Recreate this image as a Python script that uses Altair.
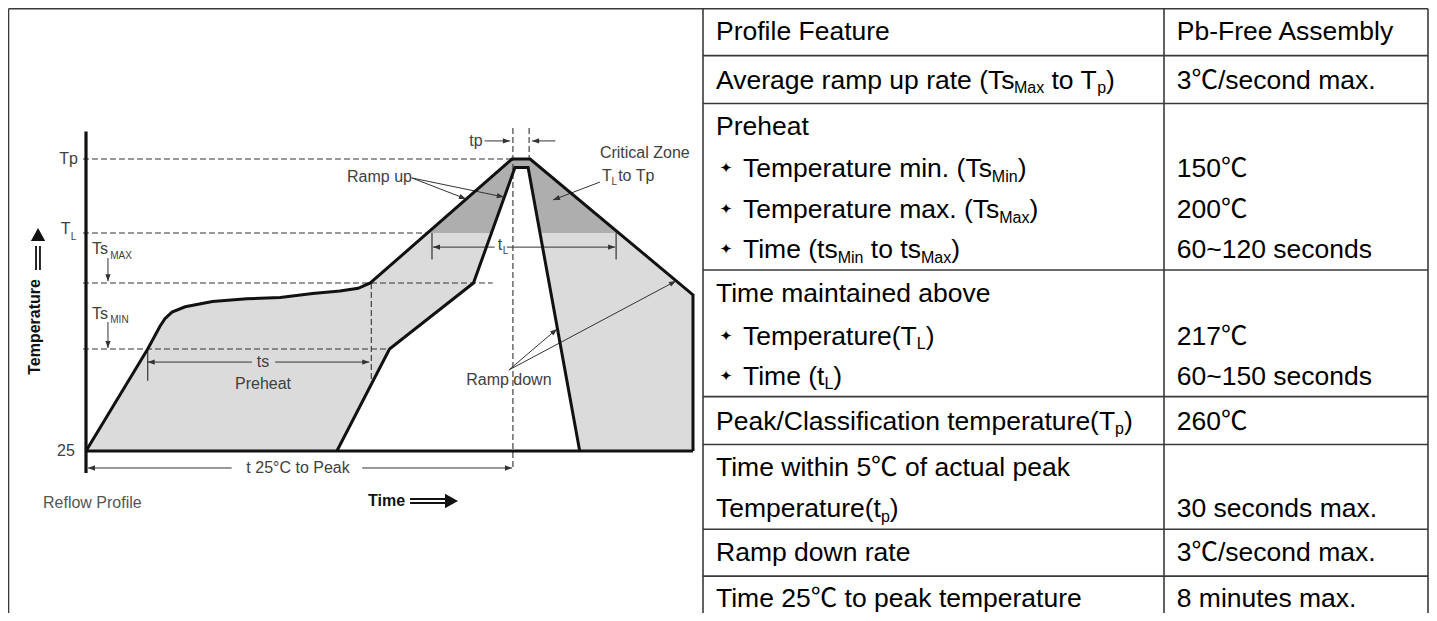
import math
import altair as alt
import pandas as pd

# ---------------- reflow profile (schematic time units, temperature in ℃) ----------------
PROFILE_MAX_TIME = [0, 61, 73, 78, 85, 98, 125, 159, 192, 224, 251, 269, 281, 421, 439, 600, 600]
PROFILE_MAX_TEMP = [25, 150, 167, 173, 178, 182, 186, 188, 189, 192, 194, 196, 200, 260, 260, 191, 25]
PROFILE_MIN_TIME = [248, 300, 383, 424, 437, 488]
PROFILE_MIN_TEMP = [25, 150, 200, 255, 255, 25]
CRITICAL_TIME = [338, 421, 439, 526, 449, 437, 424, 400]
CRITICAL_TEMP = [217, 260, 260, 217, 217, 255, 255, 217]
TEMP_LEVELS = [25, 150, 200, 217, 260]          # 25, Ts_MIN, Ts_MAX, T_L, Tp

# guide lines (start time, start temp, end time, end temp)
DASH_T1 = [-3, -3, -3, -3, 282, 422, 438]
DASH_C1 = [260, 217, 200, 150, 200, 278, 278]
DASH_T2 = [421, 338, 402, 300, 282, 422, 438]
DASH_C2 = [260, 217, 200, 150, 111, 2, 260]
TICK_T1 = [61, 342, 524]
TICK_C1 = [150, 217, 217]
TICK_T2 = [61, 342, 524]
TICK_C2 = [111, 208, 208]
AXIS_T1 = [0, 0]
AXIS_C1 = [276, 25]
AXIS_T2 = [0, 600]
AXIS_C2 = [-2, 25]
ARROW_T1 = [164, 187, 404, 416, 144, 273, 394, 464, 21.7, 21.7, 322, 322, 508, 418, 418]
ARROW_C1 = [134, 134, 212.2, 212.2, 4.2, 4.2, 270.5, 270.5, 208.5, 170.5, 249, 249, 246.6, 124.3, 124.3]
ARROW_T2 = [61, 280, 343, 523, 2, 421, 419, 441, 21.7, 21.7, 375.6, 413, 461.6, 465.6, 583.2]
ARROW_C2 = [134, 134, 212.2, 212.2, 4.2, 4.2, 270.5, 270.5, 200.6, 150.8, 236.8, 237.9, 236.2, 165.2, 200.7]
DOUBLE_T1 = [-49.4, -45.5, 320.3, 320.3]
DOUBLE_C1 = [204.4, 204.4, -33.8, -38.7]
DOUBLE_T2 = [-49.4, -45.5, 356.9, 356.9]
DOUBLE_C2 = [212.6, 212.6, -33.8, -38.7]
DOUBLE_HEAD_T = [-47.4, 367.7]
DOUBLE_HEAD_C = [219.9, -36.3]

# diagram labels
LABEL_LEFT = ["Ramp up", "Critical Zone", "T", "to Tp", "T", "Ts", "Ts", "t"]
LABEL_LEFT_T = [258, 508, 510, 526, -25, 6, 6, 407]
LABEL_LEFT_C = [249.5, 263.5, 250, 250, 219.3, 211.6, 176.5, 212.9]
LABEL_RIGHT = ["Tp", "25", "tp"]
LABEL_RIGHT_T = [-8, -11, 392]
LABEL_RIGHT_C = [260, 25, 270.5]
LABEL_CENTER = ["ts", "Preheat", "t 25°C to Peak", "Ramp down"]
LABEL_CENTER_T = [175, 175, 209.6, 418]
LABEL_CENTER_C = [134, 107, 4.2, 112]
LABEL_SUB = ["L", "MAX", "MIN", "L", "L"]
LABEL_SUB_T = [-15, 24, 24, 519.5, 412]
LABEL_SUB_C = [215.6, 209.2, 172, 246.6, 210.9]

# ---------------- table ----------------
FEATURES = [
    [("Profile Feature", 0)],
    [("Average ramp up rate (Ts", 0), ("Max", 1), (" to T", 0), ("p", 1), (")", 0)],
    [("Preheat", 0)],
    [("Temperature min. (Ts", 0), ("Min", 1), (")", 0)],
    [("Temperature max. (Ts", 0), ("Max", 1), (")", 0)],
    [("Time (ts", 0), ("Min", 1), (" to ts", 0), ("Max", 1), (")", 0)],
    [("Time maintained above", 0)],
    [("Temperature(T", 0), ("L", 1), (")", 0)],
    [("Time (t", 0), ("L", 1), (")", 0)],
    [("Peak/Classification temperature(T", 0), ("p", 1), (")", 0)],
    [("Time within 5℃ of actual peak", 0)],
    [("Temperature(t", 0), ("p", 1), (")", 0)],
    [("Ramp down rate", 0)],
    [("Time 25℃ to peak temperature", 0)],
]
BULLET_LINES = [3, 4, 5, 7, 8]
VALUES = ["Pb-Free Assembly", "3℃/second max.", "150℃", "200℃", "60~120 seconds",
          "217℃", "60~150 seconds", "260℃", "30 seconds max.", "3℃/second max.", "8 minutes max."]
VALUE_LINES = [0, 1, 3, 4, 5, 7, 8, 9, 11, 12, 13]

# ---------------- layout (positions in reference-page pixels) ----------------
W, H = 1421, 605
LEVEL_PX = [443, 341, 275, 225, 151]
TIME_DOMAIN, TIME_PX = [0, 600], [78, 685]
PAGE_X_DOMAIN, PAGE_X_RANGE = [7, 703, 1164, 1433], [0.5, 695, 1156, 1420]
PAGE_Y_DOMAIN, PAGE_Y_RANGE = [7, 613], [0.8, 605]
LINE_CENTER_Y = [29, 78, 125, 167, 208, 248, 292, 335, 375, 420, 467, 508, 552, 598]
ROW_RULE_Y = [54, 102, 269, 396, 444, 529, 576]
VERTICAL_X = [7, 703, 1164, 1433]
TEXT_X, TEXT_X_BULLET, BULLET_X, VALUE_X = 716, 743, 726, 1177
MAIN_SIZE, SUB_SIZE = 26.5, 16
FONT = "Liberation Sans, Arial, Noto Sans CJK SC, sans-serif"
DFONT = "Liberation Sans, Arial, sans-serif"
LINE_COLOR = "#3a3a3a"
TXT = "#404040"

ARIAL = {' ': 278, '(': 333, ')': 333, '.': 278, '/': 278, '~': 584, '-': 333, '℃': 1000}
ARIAL.update({d: 556 for d in "0123456789"})
ARIAL.update(dict(zip("ABCDEFGHIJKLMNOPQRSTUVWXYZ",
                      [667, 667, 722, 722, 667, 611, 778, 722, 278, 500, 667, 556, 833, 722, 778, 667,
                       778, 722, 667, 611, 722, 667, 944, 667, 667, 611])))
ARIAL.update(dict(zip("abcdefghijklmnopqrstuvwxyz",
                      [556, 556, 500, 556, 556, 278, 556, 556, 222, 222, 500, 222, 833, 556, 556, 556,
                       556, 333, 500, 278, 556, 500, 722, 500, 500, 500])))
KERN = {"Te": -111, "Ta": -111, "To": -111, "Ts": -111, "Tc": -111, "Tr": -37, "Tu": -37,
        "Ti": -37, "Ty": -55, "Tw": -55, "Av": -40, "Ay": -40, "Aw": -18}


def text_width(s, size):
    w = sum(ARIAL.get(c, 556) for c in s)
    w += sum(KERN.get(s[k:k + 2], 0) for k in range(len(s) - 1))
    return w * size / 1000.0


def to_px(t, c):
    x = TIME_PX[0] + (t - TIME_DOMAIN[0]) * (TIME_PX[1] - TIME_PX[0]) / (TIME_DOMAIN[1] - TIME_DOMAIN[0])
    i = 0
    while i < len(TEMP_LEVELS) - 2 and c > TEMP_LEVELS[i + 1]:
        i += 1
    c0, c1 = TEMP_LEVELS[i], TEMP_LEVELS[i + 1]
    p0, p1 = LEVEL_PX[i], LEVEL_PX[i + 1]
    return x, p0 + (c - c0) * (p1 - p0) / (c1 - c0)


def angle_of(t1, c1, t2, c2):
    x1, y1 = to_px(t1, c1)
    x2, y2 = to_px(t2, c2)
    return math.degrees(math.atan2(y2 - y1, x2 - x1)) % 360


# ---------------- encodings ----------------
def dx(f="t"):
    return alt.X(f"{f}:Q", scale=alt.Scale(domain=TIME_DOMAIN, range=TIME_PX, nice=False, zero=False), axis=None)


def dy(f="c"):
    return alt.Y(f"{f}:Q", scale=alt.Scale(domain=TEMP_LEVELS, range=LEVEL_PX, nice=False, zero=False), axis=None)


def px(f="x"):
    return alt.X(f"{f}:Q", scale=alt.Scale(domain=PAGE_X_DOMAIN, range=PAGE_X_RANGE, nice=False, zero=False), axis=None)


def py(f="y"):
    return alt.Y(f"{f}:Q", scale=alt.Scale(domain=PAGE_Y_DOMAIN, range=PAGE_Y_RANGE, nice=False, zero=False), axis=None)


def seg_df(t1, c1, t2, c2):
    return pd.DataFrame({"t": t1, "c": c1, "t2": t2, "c2": c2})


layers = []

# filled profile band (outer boundary then inner boundary back)
poly_t = PROFILE_MAX_TIME + PROFILE_MIN_TIME[::-1]
poly_c = PROFILE_MAX_TEMP + PROFILE_MIN_TEMP[::-1]
poly = pd.DataFrame({"t": poly_t, "c": poly_c, "i": list(range(len(poly_t)))})
layers.append(alt.Chart(poly).mark_line(fill="#dbdbdb", strokeOpacity=0, interpolate="linear")
              .encode(x=dx(), y=dy(), order="i:Q"))
crit = pd.DataFrame({"t": CRITICAL_TIME, "c": CRITICAL_TEMP, "i": list(range(len(CRITICAL_TIME)))})
layers.append(alt.Chart(crit).mark_line(fill="#aeaeae", strokeOpacity=0, interpolate="linear")
              .encode(x=dx(), y=dy(), order="i:Q"))

# dashed guides
layers.append(alt.Chart(seg_df(DASH_T1, DASH_C1, DASH_T2, DASH_C2))
              .mark_rule(color="#333333", strokeWidth=1.1, strokeDash=[6, 3])
              .encode(x=dx(), y=dy(), x2="t2:Q", y2="c2:Q"))
# thin ticks and arrow shafts
layers.append(alt.Chart(seg_df(TICK_T1, TICK_C1, TICK_T2, TICK_C2))
              .mark_rule(color="#333333", strokeWidth=1.2)
              .encode(x=dx(), y=dy(), x2="t2:Q", y2="c2:Q"))
layers.append(alt.Chart(seg_df(ARROW_T1, ARROW_C1, ARROW_T2, ARROW_C2))
              .mark_rule(color="#333333", strokeWidth=1)
              .encode(x=dx(), y=dy(), x2="t2:Q", y2="c2:Q"))
layers.append(alt.Chart(seg_df(DOUBLE_T1, DOUBLE_C1, DOUBLE_T2, DOUBLE_C2))
              .mark_rule(color="#111111", strokeWidth=1.8)
              .encode(x=dx(), y=dy(), x2="t2:Q", y2="c2:Q"))
# axes
layers.append(alt.Chart(seg_df(AXIS_T1, AXIS_C1, AXIS_T2, AXIS_C2))
              .mark_rule(color="#111111", strokeWidth=3.2)
              .encode(x=dx(), y=dy(), x2="t2:Q", y2="c2:Q"))

# profile outlines
outer = pd.DataFrame({"t": PROFILE_MAX_TIME, "c": PROFILE_MAX_TEMP, "i": list(range(len(PROFILE_MAX_TIME)))})
inner = pd.DataFrame({"t": PROFILE_MIN_TIME, "c": PROFILE_MIN_TEMP, "i": list(range(len(PROFILE_MIN_TIME)))})
for d in (outer, inner):
    layers.append(alt.Chart(d).mark_line(color="#111111", strokeWidth=3, strokeJoin="miter")
                  .encode(x=dx(), y=dy(), order="i:Q"))

# arrow heads
heads = pd.DataFrame({"t": ARROW_T2, "c": ARROW_C2,
                      "a": [angle_of(a, b, c, d) for a, b, c, d in zip(ARROW_T1, ARROW_C1, ARROW_T2, ARROW_C2)]})
layers.append(alt.Chart(heads).mark_point(shape="M0,0L-1,-0.38L-1,0.38Z", filled=True, size=196,
                                          color="#333333", opacity=1)
              .encode(x=dx(), y=dy(), angle=alt.Angle("a:Q", scale=None)))
dheads = pd.DataFrame({"t": DOUBLE_HEAD_T, "c": DOUBLE_HEAD_C, "a": [270, 0]})
layers.append(alt.Chart(dheads).mark_point(shape="M0,0L-1,-0.55L-1,0.55Z", filled=True, size=676,
                                           color="#111111", opacity=1)
              .encode(x=dx(), y=dy(), angle=alt.Angle("a:Q", scale=None)))

# diagram labels
for labels, ts, cs, align in ((LABEL_LEFT, LABEL_LEFT_T, LABEL_LEFT_C, "left"),
                              (LABEL_RIGHT, LABEL_RIGHT_T, LABEL_RIGHT_C, "right"),
                              (LABEL_CENTER, LABEL_CENTER_T, LABEL_CENTER_C, "center")):
    layers.append(alt.Chart(pd.DataFrame({"s": labels, "t": ts, "c": cs}))
                  .mark_text(align=align, baseline="middle", font=DFONT, fontSize=16, color=TXT)
                  .encode(x=dx(), y=dy(), text="s:N"))
layers.append(alt.Chart(pd.DataFrame({"s": LABEL_SUB, "t": LABEL_SUB_T, "c": LABEL_SUB_C}))
              .mark_text(align="left", baseline="middle", font=DFONT, fontSize=10, color=TXT)
              .encode(x=dx(), y=dy(), text="s:N"))
layers.append(alt.Chart(pd.DataFrame({"s": ["Reflow Profile"], "t": [-42.5], "c": [-38.7]}))
              .mark_text(align="left", baseline="middle", font=DFONT, fontSize=16, color="#555555")
              .encode(x=dx(), y=dy(), text="s:N"))
layers.append(alt.Chart(pd.DataFrame({"s": ["Time"], "t": [278.8], "c": [-36.3]}))
              .mark_text(align="left", baseline="middle", font=DFONT, fontSize=16, fontWeight="bold",
                         color="#111111")
              .encode(x=dx(), y=dy(), text="s:N"))
layers.append(alt.Chart(pd.DataFrame({"s": ["Temperature"], "t": [-50.4], "c": [166.7]}))
              .mark_text(align="center", baseline="middle", font=DFONT, fontSize=16, fontWeight="bold",
                         angle=270, color="#111111")
              .encode(x=dx(), y=dy(), text="s:N"))

# ---------------- table / frame ----------------
vlines = pd.DataFrame({"x": VERTICAL_X, "y": [7] * 4, "y2": [613] * 4})
layers.append(alt.Chart(vlines).mark_rule(color=LINE_COLOR, strokeWidth=1.6)
              .encode(x=px(), y=py(), y2="y2:Q"))
hlines = pd.DataFrame({"x": [7] + [703] * len(ROW_RULE_Y), "x2": [1433] * (len(ROW_RULE_Y) + 1),
                       "y": [7] + ROW_RULE_Y})
layers.append(alt.Chart(hlines).mark_rule(color=LINE_COLOR, strokeWidth=1.6)
              .encode(x=px(), x2="x2:Q", y=py()))

main_rows, sub_rows = [], []
for i, segs in enumerate(FEATURES):
    x = TEXT_X_BULLET if i in BULLET_LINES else TEXT_X
    base = LINE_CENTER_Y[i] + 9
    for s, sub in segs:
        size = SUB_SIZE if sub else MAIN_SIZE
        lead = len(s) - len(s.lstrip(" "))
        rec = {"x": x + text_width(" " * lead, size), "y": base + (4.5 if sub else 0), "s": s.strip()}
        (sub_rows if sub else main_rows).append(rec)
        x += text_width(s, size)
for i, v in zip(VALUE_LINES, VALUES):
    main_rows.append({"x": VALUE_X, "y": LINE_CENTER_Y[i] + 9, "s": v})

layers.append(alt.Chart(pd.DataFrame(main_rows))
              .mark_text(align="left", baseline="alphabetic", font=FONT, fontSize=MAIN_SIZE, color="#000000")
              .encode(x=px(), y=py(), text="s:N"))
layers.append(alt.Chart(pd.DataFrame(sub_rows))
              .mark_text(align="left", baseline="alphabetic", font=FONT, fontSize=SUB_SIZE, color="#000000")
              .encode(x=px(), y=py(), text="s:N"))
bul = pd.DataFrame({"x": [BULLET_X] * len(BULLET_LINES), "y": [LINE_CENTER_Y[i] for i in BULLET_LINES],
                    "s": ["✦"] * len(BULLET_LINES)})
layers.append(alt.Chart(bul)
              .mark_text(align="center", baseline="middle", font="DejaVu Sans", fontSize=15, color="#000000")
              .encode(x=px(), y=py(), text="s:N"))

chart = (alt.layer(*layers)
         .resolve_scale(x="independent", y="independent")
         .properties(width=W, height=H, padding=0, autosize=alt.AutoSizeParams(type="none"),
                     background="white")
         .configure_view(strokeWidth=0))

chart.save("out.html", embed_options={"renderer": "svg", "actions": False})
